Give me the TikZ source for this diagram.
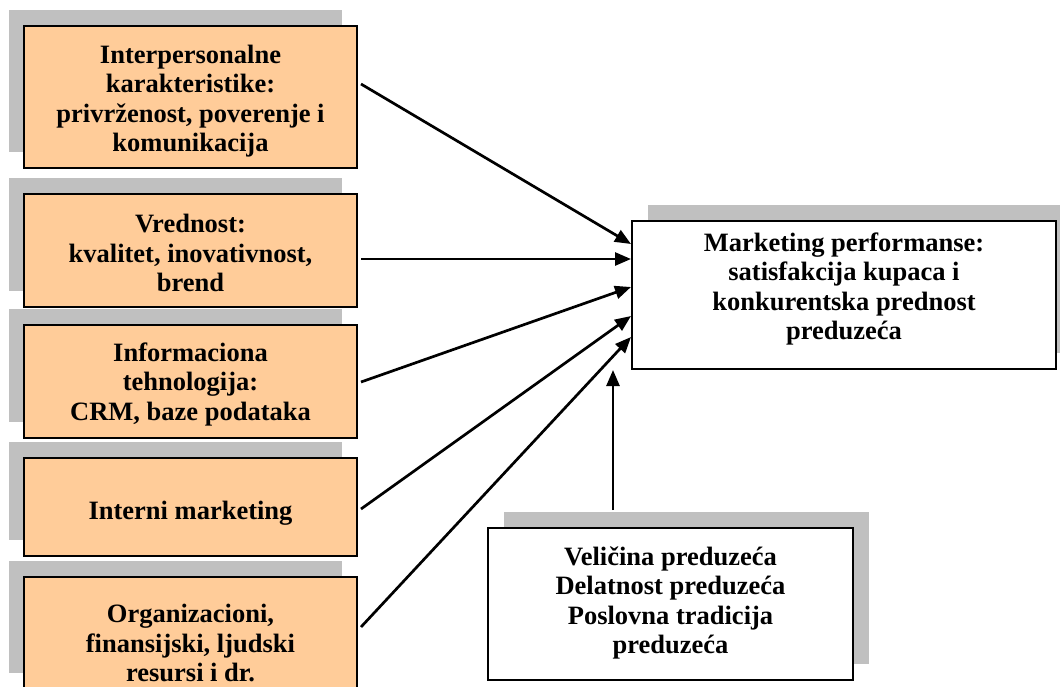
\documentclass[tikz,border=0pt]{standalone}
\usepackage{fontspec}
\setmainfont{Liberation Serif}
\usetikzlibrary{arrows.meta,calc,shadows}
\definecolor{boxorange}{HTML}{FFCC99}
\definecolor{shadowgray}{HTML}{C0C0C0}
\begin{document}
\begin{tikzpicture}[x=1pt,y=-1pt,
  every node/.style={font=\fontsize{26.5}{29.5}\selectfont\bfseries, align=center, inner sep=0pt},
  factorbox/.style={draw=black, line width=2pt, fill=boxorange,
    minimum width=333pt,
    general shadow={fill=shadowgray, shadow xshift=-15pt, shadow yshift=16pt}},
  whitebox/.style={draw=black, line width=2pt, fill=white,
    general shadow={fill=shadowgray, shadow xshift=16pt, shadow yshift=16pt}},
  arr/.style={line width=2.7pt, -{Triangle[length=16pt,width=13pt]}}]
\useasboundingbox (0,0) rectangle (1060,686);
\clip (0,0) rectangle (1060,686);

% factor boxes on the left
\node[factorbox, minimum height=142pt] (b1) at (190.5,97) {};
\node (b1t) at (190.5,101)
  {Interpersonalne\\karakteristike:\\privrženost, poverenje i\\komunikacija};
\node[factorbox, minimum height=113pt] (b2) at (190.5,250.5) {};
\node (b2t) at (190.5,253)
  {Vrednost:\\kvalitet, inovativnost,\\brend};
\node[factorbox, minimum height=113pt] (b3) at (190.5,381.5) {};
\node (b3t) at (190.5,384)
  {Informaciona\\tehnologija:\\CRM, baze podataka};
\node[factorbox, minimum height=98pt] (b4) at (190.5,507) {};
\node (b4t) at (190.5,513) {Interni marketing};
\node[factorbox, minimum height=112pt] (b5) at (190.5,633) {};
\node (b5t) at (190.5,643)
  {Organizacioni,\\finansijski, ljudski\\resursi i dr.};

% outcome box
\node[whitebox, minimum width=424pt, minimum height=148pt] (perf) at (844,295) {};
\node (perftext) at (844,289)
  {Marketing performanse:\\satisfakcija kupaca i\\konkurentska prednost\\preduzeća};

% control variables
\node[whitebox, minimum width=365pt, minimum height=152pt] (fac) at (670.5,604) {};
\node (factext) at (670.5,603)
  {Veličina preduzeća\\Delatnost preduzeća\\Poslovna tradicija\\preduzeća};

% connectors
\draw[arr] ($(b1.east)+(3,-13)$) -- ($(perf.west)+(0,-51)$);
\draw[arr] ($(b2.east)+(3,8.5)$) -- ($(perf.west)+(0,-36)$);
\draw[arr] ($(b3.east)+(3,0.5)$) -- ($(perf.west)+(0,-8)$);
\draw[arr] ($(b4.east)+(3,2)$) -- ($(perf.west)+(0,21)$);
\draw[arr] ($(b5.east)+(3,-6)$) -- ($(perf.west)+(0,42)$);
\coordinate (vs) at ($(fac.north)+(-57.5,-17)$);
\draw[arr] (vs) -- (vs |- perf.south);
\end{tikzpicture}
\end{document}
